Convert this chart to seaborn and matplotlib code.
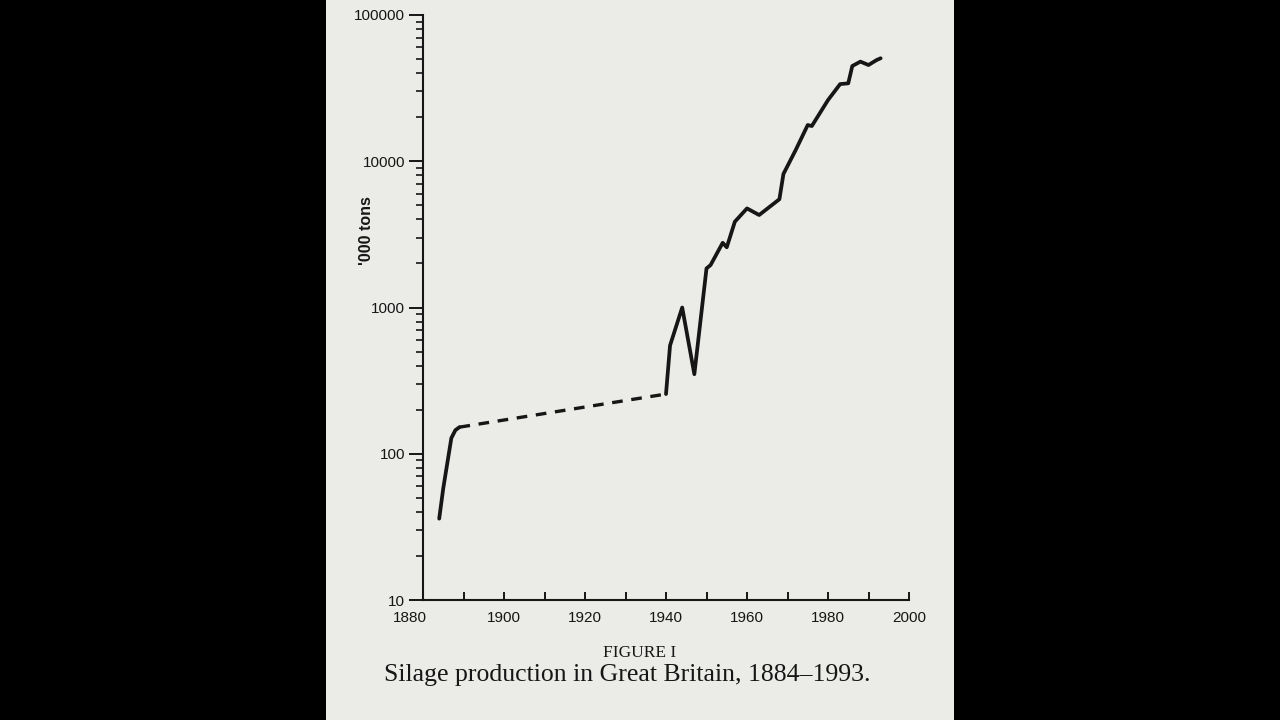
import matplotlib
matplotlib.use("Agg")
import matplotlib.pyplot as plt
import matplotlib.ticker as mticker
import matplotlib.transforms as mtransforms
from matplotlib.patches import Rectangle
import pandas as pd
import seaborn as sns

# silage production, '000 tons
early_years = [1884, 1885, 1887, 1888, 1889]
early_tons = [36, 58, 128, 145, 152]

gap_years = [1889, 1940]
gap_tons = [152, 256]

late_years = [1940, 1941, 1944, 1947, 1950, 1951, 1954, 1955, 1957, 1960,
              1963, 1968, 1969, 1972, 1975, 1976, 1980, 1983, 1985, 1986,
              1988, 1990, 1992, 1993]
late_tons = [256, 550, 1000, 350, 1850, 1950, 2770, 2580, 3860, 4760,
             4290, 5500, 8190, 11900, 17700, 17400, 26200, 33700, 34100, 44800,
             48000, 45500, 49200, 50600]

y_ticks = [10, 100, 1000, 10000, 100000]
x_ticks = list(range(1880, 2001, 10))
x_labels = [str(y) if y % 20 == 0 else "" for y in x_ticks]

sns.set_style("ticks")
plt.rcParams['font.family'] = ['Liberation Sans', 'DejaVu Sans']

early = pd.DataFrame({'year': early_years, 'tons': early_tons})
gap = pd.DataFrame({'year': gap_years, 'tons': gap_tons})
late = pd.DataFrame({'year': late_years, 'tons': late_tons})

ink = '#161616'
page = '#ebebe8'

fig = plt.figure(figsize=(12.8, 7.2), dpi=100, facecolor='black')
# the scanned page, behind everything
fig.patches.append(Rectangle((326 / 1280, 0), 628 / 1280, 1, transform=fig.transFigure,
                             facecolor=page, edgecolor='none', zorder=-10))

ax = fig.add_axes([423 / 1280, 1 - 600 / 720, 486 / 1280, 585 / 720])
ax.set_facecolor('none')

sns.lineplot(data=early, x='year', y='tons', ax=ax, color=ink, linewidth=2.7)
sns.lineplot(data=gap, x='year', y='tons', ax=ax, color=ink, linewidth=2.4,
             linestyle=(0, (3.2, 2.6)))
sns.lineplot(data=late, x='year', y='tons', ax=ax, color=ink, linewidth=2.7)

ax.set_yscale('log')
ax.set_ylim(10, 100000)
ax.set_xlim(1880, 2000)
ax.set_yticks(y_ticks)
ax.yaxis.set_major_formatter(mticker.FuncFormatter(lambda v, p: f"{int(v)}"))
ax.yaxis.set_minor_locator(mticker.LogLocator(base=10, subs=range(2, 10)))
ax.yaxis.set_minor_formatter(mticker.NullFormatter())
ax.set_xticks(x_ticks)
ax.set_xticklabels(x_labels)

for side in ['top', 'right']:
    ax.spines[side].set_visible(False)
for side in ['left', 'bottom']:
    ax.spines[side].set_color(ink)
    ax.spines[side].set_linewidth(1.5)

ax.tick_params(axis='y', which='major', direction='out', length=10, width=1.4,
               colors=ink, labelsize=11, pad=3)
ax.tick_params(axis='y', which='minor', direction='out', length=5, width=1.2, colors=ink)
ax.tick_params(axis='x', which='major', direction='in', length=5.5, width=1.4,
               colors=ink, labelsize=11, pad=8)

# the 1880 label sits a little left of its tick in the original
first = ax.get_xticklabels()[0]
first.set_transform(first.get_transform() +
                    mtransforms.ScaledTranslation(-0.13, 0, fig.dpi_scale_trans))

ax.set_xlabel('')
ax.set_ylabel("'000 tons", fontsize=11.5, fontweight='bold', color=ink)
ax.yaxis.set_label_coords(-0.1, 0.632)

fig.text(640 / 1280, 1 - 653 / 720, 'FIGURE I', ha='center', va='center',
         family=['Liberation Serif', 'DejaVu Serif'], fontsize=12.5, color=ink)
fig.text(627 / 1280, 1 - 675 / 720, 'Silage production in Great Britain, 1884\u20131993.',
         ha='center', va='center', family=['Liberation Serif', 'DejaVu Serif'],
         fontsize=18.5, color=ink)

fig.savefig('out.png', dpi=100, facecolor='black')
plt.close(fig)
